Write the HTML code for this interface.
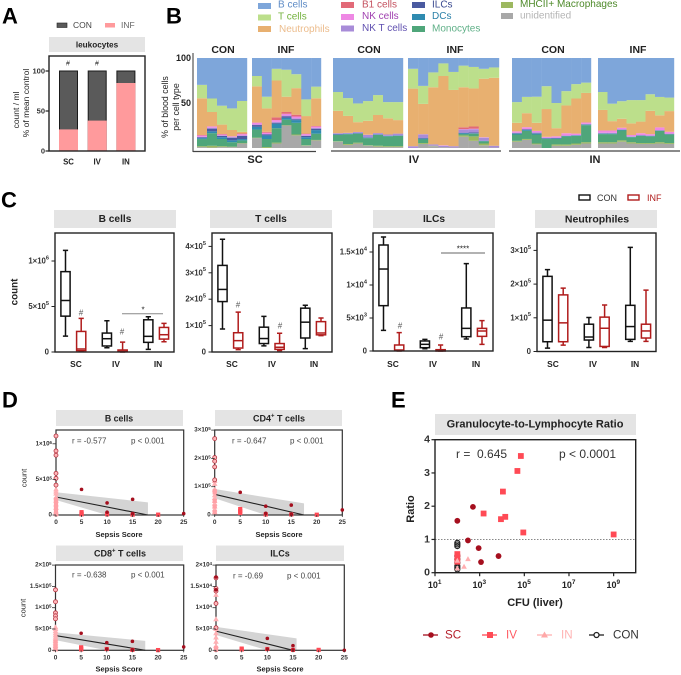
<!DOCTYPE html>
<html lang="en">
<head>
<meta charset="utf-8">
<title>Immune cell figure</title>
<style>
html,body{margin:0;padding:0;background:#fff;}
svg{display:block;filter:blur(.35px);font-family:"Liberation Sans",sans-serif;}
text{dominant-baseline:central;}
.hdr{fill:#e4e4e4;}
.box{fill:none;stroke:#222;stroke-width:1.4;}
.ht{font-weight:bold;text-anchor:middle;fill:#222;}
.let{font-weight:bold;font-size:22px;fill:#000;}
.lab{text-anchor:middle;fill:#222;}
.b{font-weight:bold;}
</style>
</head>
<body>
<svg id="fig" width="681" height="675" viewBox="0 0 681 675" xmlns="http://www.w3.org/2000/svg">
<rect width="681" height="675" fill="#fff"/>
<!-- panel letters -->
<text class="let" x="2" y="16">A</text>
<text class="let" x="166" y="16">B</text>
<text class="let" x="1" y="200">C</text>
<text class="let" x="2" y="400">D</text>
<text class="let" x="391" y="400">E</text>

<!-- panel A -->
<g>
<rect x="57" y="23" width="10" height="4.5" fill="#5a5a5a" stroke="#222" stroke-width=".6"/>
<text x="73" y="25" font-size="8.5" fill="#444">CON</text>
<rect x="105" y="23" width="10" height="4.5" fill="#ff9a9c"/>
<text x="121" y="25" font-size="8.5" fill="#666">INF</text>
<rect class="hdr" x="49" y="37" width="96" height="15"/>
<text class="ht" x="97" y="45" font-size="8.2">leukocytes</text>
<g id="a-marks"></g>
<rect class="box" x="49" y="56" width="96" height="95"/>
<text class="lab" font-size="8.5" transform="translate(16,110) rotate(-90)">count / ml</text>
<text class="lab" font-size="8.5" transform="translate(26,103) rotate(-90)">%  of mean control</text>
<text class="lab" x="68" y="64" font-size="7" fill="#444">#</text>
<text class="lab" x="97" y="64" font-size="7" fill="#444">#</text>
</g>

<!-- panel B -->
<g>
<g font-size="10">
<rect x="258" y="3" width="13" height="6" fill="#7ea6da"/>
<text x="278" y="5" fill="#5f8cc6">B cells</text>
<rect x="258" y="14.5" width="13" height="6" fill="#bcdf8b"/>
<text x="278" y="17" fill="#74b23e">T cells</text>
<rect x="258" y="26" width="13" height="6" fill="#e8b070"/>
<text x="279" y="29.5" fill="#ecbc8c">Neutrophils</text>
<rect x="341" y="2" width="13" height="6" fill="#e26a78"/>
<text x="362" y="5" fill="#c4505e">B1 cells</text>
<rect x="341" y="14" width="13" height="6" fill="#ee88e4"/>
<text x="362" y="16.5" fill="#a040b0">NK cells</text>
<rect x="341" y="25.5" width="13" height="6" fill="#a88cd8"/>
<text x="362" y="28.5" fill="#6050b0">NK T cells</text>
<rect x="412" y="2" width="13" height="6" fill="#4a5aa0"/>
<text x="432" y="5" fill="#3a4a90">ILCs</text>
<rect x="412" y="14" width="13" height="6" fill="#2f8bb0"/>
<text x="432" y="16.5" fill="#2a80a8">DCs</text>
<rect x="412" y="26" width="13" height="6" fill="#4fa67a"/>
<text x="432" y="29" fill="#60b088">Monocytes</text>
<rect x="501" y="2" width="12" height="6" fill="#9db860"/>
<text x="520" y="4.5" fill="#4e8a2a">MHCII+ Macrophages</text>
<rect x="501" y="13" width="12" height="6" fill="#a8a8a8"/>
<text x="520" y="16" fill="#b4b4b4">unidentified</text>
</g>
<text class="ht" x="223" y="50" font-size="10.5">CON</text>
<text class="ht" x="286" y="50" font-size="10.5">INF</text>
<text class="ht" x="369" y="50" font-size="10.5">CON</text>
<text class="ht" x="455" y="50" font-size="10.5">INF</text>
<text class="ht" x="553" y="50" font-size="10.5">CON</text>
<text class="ht" x="638" y="50" font-size="10.5">INF</text>
<g id="b-marks"></g>
<path d="M193 53V152" stroke="#333" stroke-width="1" fill="none"/>
<path d="M193 151.500H316" stroke="#444" stroke-width="1.3" fill="none"/>
<path d="M331 151H501" stroke="#444" stroke-width="1.3" fill="none"/>
<path d="M509 151H680" stroke="#444" stroke-width="1.3" fill="none"/>
<text class="b" x="191" y="58" text-anchor="end" font-size="9" fill="#222">100</text>
<text class="b" x="191" y="103" text-anchor="end" font-size="9" fill="#222">50</text>
<text class="lab" font-size="8.8" transform="translate(165,107) rotate(-90)">% of blood cells</text>
<text class="lab" font-size="8.8" transform="translate(176,107) rotate(-90)">per cell type</text>
<text class="ht" x="255" y="160" font-size="11">SC</text>
<text class="ht" x="414" y="160" font-size="11">IV</text>
<text class="ht" x="595" y="160" font-size="11">IN</text>
</g>

<!-- panel C -->
<g>
<rect x="579" y="195" width="11" height="5" fill="none" stroke="#111" stroke-width="1.4"/>
<text x="597" y="198" font-size="9" fill="#333">CON</text>
<rect x="628" y="195" width="11" height="5" fill="none" stroke="#b01c1c" stroke-width="1.4"/>
<text x="647" y="198" font-size="9" fill="#b01c1c">INF</text>
<rect class="hdr" x="54" y="210" width="122" height="18"/>
<rect class="hdr" x="210" y="210" width="122" height="18"/>
<rect class="hdr" x="373" y="210" width="122" height="18"/>
<rect class="hdr" x="535" y="210" width="122" height="18"/>
<text class="ht" x="115" y="219.500" font-size="10.200">B cells</text>
<text class="ht" x="271" y="219.500" font-size="10.200">T cells</text>
<text class="ht" x="434" y="219.500" font-size="10.200">ILCs</text>
<text class="ht" x="597" y="219.500" font-size="10.500">Neutrophiles</text>
<text class="ht" font-size="9.800" transform="translate(15,292) rotate(-90)">count</text>
<g id="c-marks"></g>
<g fill="#555" font-size="8" text-anchor="middle">
<text x="81" y="313">#</text>
<text x="122" y="332">#</text>
<text x="238" y="305">#</text>
<text x="280" y="326">#</text>
<text x="400" y="326">#</text>
<text x="441" y="337">#</text>
</g>
<path d="M122 313.700H163" stroke="#888" stroke-width="1" fill="none"/>
<text class="lab" x="143" y="310" font-size="8">*</text>
<path d="M441 253H485" stroke="#666" stroke-width="1" fill="none"/>
<text class="lab" x="463" y="249" font-size="8">****</text>
</g>

<!-- panel D -->
<g>
<rect class="hdr" x="56" y="410" width="127" height="16"/>
<rect class="hdr" x="215" y="410" width="127" height="16"/>
<rect class="hdr" x="56" y="545.500" width="127" height="15.500"/>
<rect class="hdr" x="216" y="545.500" width="128" height="15.500"/>
<text class="ht" x="119" y="418.500" font-size="8.800">B cells</text>
<text class="ht" x="279" y="418.500" font-size="9">CD4<tspan font-size="6" dy="-2">+</tspan><tspan dy="2"> T cells</tspan></text>
<text class="ht" x="120" y="553.500" font-size="9">CD8<tspan font-size="6" dy="-2">+</tspan><tspan dy="2"> T cells</tspan></text>
<text class="ht" x="280" y="553.500" font-size="9">ILCs</text>
<g id="d-marks"></g>
<text class="lab" font-size="7.5" transform="translate(24,478) rotate(-90)">count</text>
<text class="lab" font-size="7.5" transform="translate(23,608) rotate(-90)">count</text>
<text class="ht" x="119" y="534.500" font-size="7.500">Sepsis Score</text>
<text class="ht" x="279" y="534.500" font-size="7.500">Sepsis Score</text>
<text class="ht" x="119" y="669" font-size="7.500">Sepsis Score</text>
<text class="ht" x="280" y="669" font-size="7.500">Sepsis Score</text>
<g font-size="8" fill="#444">
<text x="72" y="441">r = -0.577</text>
<text x="131" y="441">p &lt; 0.001</text>
<text x="232" y="441">r = -0.647</text>
<text x="290" y="441">p &lt; 0.001</text>
<text x="72" y="575">r = -0.638</text>
<text x="131" y="575">p &lt; 0.001</text>
<text x="233" y="576">r = -0.69</text>
<text x="287" y="576">p &lt; 0.001</text>
</g>
</g>

<!-- panel E -->
<g>
<rect class="hdr" x="435" y="414" width="201" height="21"/>
<text class="ht" x="535" y="424.500" font-size="11">Granulocyte-to-Lymphocyte  Ratio</text>
<g id="e-marks"></g>
<text x="456" y="454" font-size="12" fill="#333" xml:space="preserve">r =  0.645</text>
<text x="559" y="454" font-size="12" fill="#333">p &lt; 0.0001</text>
<text class="ht" x="535" y="603" font-size="11">CFU (liver)</text>
<text class="ht" font-size="11" transform="translate(411,509) rotate(-90)">Ratio</text>
<g font-size="11.600">
<path d="M423 635H438" stroke="#a50f1e" stroke-width="1.300"/>
<circle cx="431" cy="635" r="2.800" fill="#a50f1e"/>
<text x="445" y="635" fill="#b5202c">SC</text>
<path d="M482 635H497" stroke="#ff4a55" stroke-width="1.300"/>
<rect x="487" y="632" width="6" height="6" fill="#ff4a55"/>
<text x="506" y="635" fill="#ff5a62">IV</text>
<path d="M537 635H552" stroke="#ffb0b0" stroke-width="1.300"/>
<path d="M544.500 631.500L548 637.500H541Z" fill="#ffa8a8"/>
<text x="561" y="635" fill="#ffb4b4">IN</text>
<path d="M589 635H604" stroke="#222" stroke-width="1.300"/>
<circle cx="596.500" cy="635" r="2.500" fill="#fff" stroke="#222" stroke-width="1.300"/>
<text x="613" y="635" fill="#333">CON</text>
</g>
</g>
</svg>
<script>
/* ---------- Panel A data ---------- */
const aCategories = ['SC', 'IV', 'IN'];
const aInfValues = [27, 38, 85];
const aConValues = [100, 100, 100];
const aTicks = [0, 50, 100];

/* ---------- Panel B data: each row is one animal, values in % per cell type ---------- */
const bCellTypes = ['unidentified', 'macrophages', 'monocytes', 'dcs', 'ilcs', 'nk-t-cells', 'nk-cells', 'b1-cells', 'neutrophils', 't-cells', 'b-cells'];
const bScCon = [
  [1, 1, 8, 1, 1, .5, 1.5, .5, 41, 15, 30],
  [.5, 2, 14, 2, 3, 1, 1.5, 0, 16, 15, 45],
  [1, 1, 8, 2, 1.5, .5, 1, .5, 10.5, 21, 53],
  [1, .5, 5, 2, 3, .5, 1, 0, 7, 24, 56],
  [5, .5, 3, 1.5, 3.5, .5, 1.5, .8, 1.7, 34.5, 48]
];
const bScInf = [
  [11, .5, 9, 3, 2, .5, 2, .5, 40, 11.5, 20],
  [0, 1, 9, 4, 1, .5, 1.5, 1, 26, 13, 43],
  [5, 1, 16, 5, 1, 1, 2, 3, 41, 13, 12],
  [25, .5, 6, 2, 1.5, 1, 2, 2, 17, 30, 13],
  [14, 1, 13, 3, 1, 1, 2, 2, 29.5, 15.5, 18],
  [2.5, .5, 7, 2, 1.5, .5, 1.5, .5, 19.5, 18.5, 46],
  [8.5, .5, 7, 4, 1.5, 1, 1.5, .5, 31, 13, 32]
];
const bIvCon = [
  [7, .5, 7, .5, .5, 1, 0, 0, 25, 21, 38],
  [3.5, 1, 11, .5, 0, 1, 0, 0, 19, 20, 45],
  [5, 1, 10, .5, .5, 1, 0, 0, 11, 21, 51],
  [2.5, .5, 8, .5, .5, 2.5, .3, 0, 15.5, 22, 48],
  [1.5, 1, 12, .5, 0, 1.5, 0, 0, 20, 22, 41],
  [1, 1, 11, .5, 0, 1.5, 0, 0, 18, 18, 49],
  [1, 1, 11.5, .5, 0, 2, 0, 0, 15, 20, 49]
];
const bIvInf = [
  [0, 0, 0, 0, 0, 2, 0, 0, 64, 22, 12],
  [4.5, 1, 4, 1, .5, 4, .3, 0, 33.7, 20, 31],
  [2, .5, 0, 0, 0, 1.5, 0, 0, 63.5, 16.5, 16],
  [1, 0, 0, 0, 0, 1.5, .5, 0, 77, 14, 6],
  [.5, 0, 0, 0, 0, 1.5, 0, 0, 62.5, 20, 15.5],
  [12.5, 1.5, 1.5, 1, .5, 3.5, .5, 2, 44.5, 24, 8.5],
  [8, 5, 3, .5, 1, 3.5, .5, 2.5, 42.5, 24, 10],
  [3, 2, 2.5, .5, 0, 3.5, .5, 0, 65, 11, 12],
  [.5, 0, 0, 0, 0, 2, 0, 0, 75.5, 11.5, 10.5]
];
const bInCon = [
  [7, 1, 7, 1, .5, .5, 1.5, 0, 9.5, 23, 49],
  [9, 1, 9, 1, .5, .5, 2, 0, 15.5, 18, 43],
  [4, 1, 10, 1, .5, 1, 1.5, 0, 9, 29, 43],
  [0, 0, 10, .5, .5, .5, 1, 0, 31, 25.5, 31.5],
  [2.5, 1.5, 6, .5, .5, .5, 1.5, 0, 9, 28, 50],
  [2.5, 1.5, 9, .5, 0, .5, 2.5, 0, 31, 16, 37],
  [3.5, 1.5, 8.5, .5, 0, .5, 1.5, 0, 39, 16, 29],
  [5, 1.5, 19, .5, .5, .5, 1.5, 0, 33, 11.5, 27.5]
];
const bInInf = [
  [5, 1.5, 9, .5, .3, .7, 2.5, 0, 23, 20, 38],
  [5, 1.5, 9, .5, .3, .7, 2.5, 0, 10.5, 19.5, 51],
  [7, 1.5, 11, .5, .3, .7, 1.5, 0, 10, 19.5, 48],
  [5, 1.5, 5.5, .3, .2, .5, 1.5, 0, 13, 26, 47],
  [4.5, 1, 8, .3, .2, .5, 2, 0, 13, 24, 47],
  [4.5, 1, 7.5, .3, .2, .5, 1.5, 0, 26, 18.5, 40.5],
  [5, 1.5, 12.5, .3, .2, .5, 3, 0, 13.5, 20.5, 43.5],
  [4.5, 1, 9.5, .3, .2, .5, 2, 0, 23, 15, 44]
];

/* ---------- Panel C data: rows are [min, q1, median, q3, max] for SC-CON, SC-INF, IV-CON, IV-INF, IN-CON, IN-INF ---------- */
const cCategories = ['SC', 'IV', 'IN'];
const cBCells = [
  [1.75e5, 3.94e5, 5.66e5, 8.83e5, 1.117e6],
  [.07e5, .15e5, .33e5, 2.26e5, 3.69e5],
  [.47e5, .66e5, 1.46e5, 2.08e5, 3.43e5],
  [0, .03e5, .07e5, .22e5, 1.09e5],
  [.29e5, 1.06e5, 1.72e5, 3.54e5, 3.87e5],
  [1.13e5, 1.42e5, 1.9e5, 2.7e5, 3.14e5]
];
const cTCells = [
  [.87e5, 1.91e5, 2.37e5, 3.28e5, 4.27e5],
  [.09e5, .15e5, .43e5, .73e5, 1.51e5],
  [.23e5, .32e5, .51e5, .94e5, 1.35e5],
  [.05e5, .1e5, .18e5, .32e5, .71e5],
  [.13e5, .53e5, 1.13e5, 1.66e5, 1.77e5],
  [.62e5, .65e5, .72e5, 1.15e5, 1.29e5]
];
const cIlcs = [
  [.313e4, .687e4, 1.242e4, 1.606e4, 1.727e4],
  [0, .005e4, .015e4, .091e4, .278e4],
  [.035e4, .05e4, .101e4, .152e4, .177e4],
  [0, 0, .005e4, .02e4, .091e4],
  [.182e4, .217e4, .343e4, .652e4, 1.323e4],
  [.101e4, .222e4, .303e4, .343e4, .46e4]
];
const cNeutrophiles = [
  [.1e5, .29e5, .93e5, 2.23e5, 2.43e5],
  [.19e5, .29e5, .85e5, 1.68e5, 1.88e5],
  [.12e5, .34e5, .43e5, .81e5, 1.01e5],
  [.12e5, .15e5, .69e5, 1.02e5, 1.38e5],
  [.3e5, .36e5, .74e5, 1.37e5, 3.09e5],
  [.3e5, .4e5, .61e5, .81e5, 1.82e5]
];
const cBTicks = [[0, '0', ''], [5e5, '5×10', '5'], [1e6, '1×10', '6']];
const cTTicks = [[0, '0', ''], [1e5, '1×10', '5'], [2e5, '2×10', '5'], [3e5, '3×10', '5'], [4e5, '4×10', '5']];
const cIlcTicks = [[0, '0', ''], [5e3, '5×10', '3'], [1e4, '1×10', '4'], [1.5e4, '1.5×10', '4']];
const cNeuTicks = [[0, '0', ''], [1e5, '1×10', '5'], [2e5, '2×10', '5'], [3e5, '3×10', '5']];

/* ---------- Panel D data: points are [sepsis score, count] ---------- */
const dXTicks = [0, 5, 10, 15, 20, 25];
const dBSc = [[5, 3.6e5], [10, 1.7e5], [10, .4e5], [15, 2.2e5], [15, .2e5], [25, .2e5]];
const dBIv = [[5, .4e5], [5, .2e5], [5, .1e5], [10, .1e5], [15, .05e5], [20, .05e5], [0, .1e5], [0, .5e5], [0, 1e5], [0, 1.5e5], [0, 2e5], [0, 2.2e5]];
const dBIn = [[0, .2e5], [0, .5e5], [0, 1e5], [0, 1.5e5], [0, 2e5], [0, 2.5e5], [0, 3e5], [0, 3.3e5], [0, 3.6e5]];
const dBCon = [[0, 11.1e5], [0, 9e5], [0, 8.4e5], [0, 5.85e5], [0, 5.15e5], [0, 4.2e5]];
const dBLine = [[0, 2.53e5], [18, 0]];
const dBUpper = [[0, 3.2e5], [18, 1.78e5]];
const dBLower = [[0, 2.1e5], [10, 0], [18, 0]];
const dBTicks = [[0, '0', ''], [5e5, '5×10', '5'], [1e6, '1×10', '6']];

const dCd4Sc = [[5, .8e5], [10, .31e5], [10, .06e5], [15, .35e5], [15, .02e5], [25, .18e5]];
const dCd4Iv = [[5, .21e5], [5, .14e5], [5, .07e5], [10, .02e5], [15, .02e5], [20, .01e5], [0, .1e5], [0, .3e5], [0, .5e5], [0, .8e5], [0, .85e5]];
const dCd4In = [[0, .1e5], [0, .2e5], [0, .3e5], [0, .4e5], [0, .5e5], [0, .6e5], [0, .7e5], [0, .9e5], [0, 1.1e5], [0, 1.2e5]];
const dCd4Con = [[0, 2.7e5], [0, 2.03e5], [0, 1.9e5], [0, 1.7e5], [0, 1.24e5]];
const dCd4Line = [[0, .73e5], [17.5, 0]];
const dCd4Upper = [[0, .92e5], [17.5, .41e5]];
const dCd4Lower = [[0, .59e5], [10, 0], [17.5, 0]];
const dCd4Ticks = [[0, '0', ''], [1e5, '1×10', '5'], [2e5, '2×10', '5'], [3e5, '3×10', '5']];

const dCd8Sc = [[5, 4e4], [10, 1.8e4], [10, .3e4], [15, 2.1e4], [15, .15e4], [25, .8e4]];
const dCd8Iv = [[5, .7e4], [5, .4e4], [5, .2e4], [10, .3e4], [15, .1e4], [20, .05e4], [0, .3e4], [0, 1e4], [0, 2e4]];
const dCd8In = [[0, .2e4], [0, .6e4], [0, 1e4], [0, 1.4e4], [0, 1.8e4], [0, 2.2e4], [0, 2.6e4], [0, 3e4], [0, 3.5e4], [0, 4e4], [0, 4.5e4], [0, 5e4], [0, 5.4e4]];
const dCd8Con = [[0, 1.42e5], [0, 1.14e5], [0, .88e5], [0, .81e5], [0, .74e5]];
const dCd8Line = [[0, 3.45e4], [17.5, 0]];
const dCd8Upper = [[0, 4.2e4], [17.5, 2.2e4]];
const dCd8Lower = [[0, 2.4e4], [10, 0], [17.5, 0]];
const dCd8Ticks = [[0, '0', ''], [5e4, '5×10', '4'], [1e5, '1×10', '5'], [1.5e5, '1.5×10', '5'], [2e5, '2×10', '5']];

const dIlcSc = [[0, 1.72e4], [0, 1.42e4], [10, .28e4], [15, .11e4], [10, .03e4], [15, .01e4], [25, 0]];
const dIlcIv = [[5, .04e4], [5, .02e4], [10, .03e4], [15, .01e4], [20, .01e4], [0, .01e4], [0, .05e4]];
const dIlcIn = [[0, .1e4], [0, .2e4], [0, .3e4], [0, .4e4], [0, .5e4], [0, .73e4], [0, 1.3e4]];
const dIlcCon = [[0, 1.7e4], [0, 1.45e4], [0, 1.39e4], [0, 1.1e4], [0, .53e4]];
const dIlcLine = [[0, .45e4], [15, 0]];
const dIlcUpper = [[0, .55e4], [15.7, .28e4]];
const dIlcLower = [[0, .36e4], [10, 0], [15.7, 0]];
const dIlcTicks = [[0, '0', ''], [5e3, '5×10', '3'], [1e4, '1×10', '4'], [1.5e4, '1.5×10', '4'], [2e4, '2×10', '4']];

/* ---------- Panel E data: points are [CFU, ratio] ---------- */
const eSc = [[100, 1.56], [500, 1.98], [300, .97], [900, .74], [1150, .32], [7000, .5]];
const eIv = [[7e4, 3.51], [4.9e4, 3.06], [1.1e4, 2.44], [1500, 1.78], [9000, 1.61], [1.4e4, 1.68], [9e4, 1.21], [1e9, 1.15], [100, .56], [100, .48], [100, .33]];
const eIn = [[300, .41], [200, .18], [100, .36], [100, .13]];
const eCon = [[100, .9], [100, .85], [100, .8], [100, .5], [100, .4], [100, .3], [100, .2], [100, .15], [100, .1]];
const eXTicks = [1, 3, 5, 7, 9];
const eYTicks = [0, 1, 2, 3, 4];
const eThreshold = 1;

/* ---------- helpers ---------- */
const NS = 'http://www.w3.org/2000/svg';
function mk(parent, tag, attrs, text) {
  const n = document.createElementNS(NS, tag);
  for (const k in attrs) n.setAttribute(k, attrs[k]);
  if (text !== undefined) n.textContent = text;
  parent.appendChild(n);
  return n;
}
function tickText(parent, x, y, mant, exp, size, weight, name) {
  const t = mk(parent, 'text', {x: x, y: y, 'text-anchor': 'end', 'font-size': size, 'font-weight': weight, fill: '#333'}, mant);
  
  
  if (exp) {
    const s = mk(t, 'tspan', {dy: -size * .33, 'font-size': size * .72}, exp);
    
    
  }
  return t;
}

/* ---------- draw panel A ---------- */
(function () {
  const g = document.getElementById('a-marks');
  const y = v => 151 - v * 0.8;
  const x = i => 68.5 + i * 28.7;
  aCategories.forEach((c, i) => {
    const con = mk(g, 'rect', {x: x(i) - 9, y: y(aConValues[i]), width: 18, height: y(0) - y(aConValues[i]), fill: '#5a5a5a', stroke: '#1a1a1a', 'stroke-width': 1});
    
    
    const inf = mk(g, 'rect', {x: x(i) - 9.500, y: y(aInfValues[i]), width: 19, height: y(0) - y(aInfValues[i]), fill: '#ff9a9c'});
    
    
    const lab = mk(g, 'text', {x: x(i), y: 162, 'text-anchor': 'middle', 'font-size': 7.8, 'font-weight': 'bold', fill: '#222'}, c);
    
    
  });
  aTicks.forEach(v => {
    const tk = mk(g, 'path', {d: 'M45.500 ' + y(v) + 'H49', stroke: '#222', 'stroke-width': 1.2});
    
    
    tickText(g, 45, y(v), String(v), '', 7.5, 'bold', 'y-tick-label-' + v);
  });
})();

/* ---------- draw panel B ---------- */
(function () {
  const g = document.getElementById('b-marks');
  const colors = {'unidentified': '#a8a8a8', 'macrophages': '#9db860', 'monocytes': '#4fa67a', 'dcs': '#2f8bb0', 'ilcs': '#4a5aa0', 'nk-t-cells': '#a88cd8', 'nk-cells': '#ee88e4', 'b1-cells': '#e26a78', 'neutrophils': '#e8b070', 't-cells': '#bcdf8b', 'b-cells': '#7ea6da'};
  const y = p => 148 - p * 0.9;
  const groups = [
    {name: 'sc-con', rows: bScCon, x0: 197, x1: 247},
    {name: 'sc-inf', rows: bScInf, x0: 252, x1: 321},
    {name: 'iv-con', rows: bIvCon, x0: 333, x1: 403},
    {name: 'iv-inf', rows: bIvInf, x0: 408, x1: 499},
    {name: 'in-con', rows: bInCon, x0: 512, x1: 591},
    {name: 'in-inf', rows: bInInf, x0: 598, x1: 674}
  ];
  groups.forEach(gr => {
    const w = (gr.x1 - gr.x0) / gr.rows.length;
    gr.rows.forEach((row, i) => {
      const total = row.reduce((a, b) => a + b, 0);
      let cum = 0;
      row.forEach((v, j) => {
        if (v <= 0) return;
        const p0 = cum / total * 100;
        cum += v;
        const p1 = cum / total * 100;
        const r = mk(g, 'rect', {x: gr.x0 + i * w, y: y(p1), width: w + .2, height: y(p0) - y(p1), fill: colors[bCellTypes[j]]});
        
        
      });
    });
  });
})();

/* ---------- draw panel C ---------- */
(function () {
  const g = document.getElementById('c-marks');
  const plots = [
    {name: 'b-cells', stats: cBCells, ticks: cBTicks, left: 55, right: 174, zero: 352, unit: 45.5 / 5e5, labels: [76, 116, 158]},
    {name: 't-cells', stats: cTCells, ticks: cTTicks, left: 212, right: 332, zero: 352, unit: 26.4 / 1e5, labels: [232, 272, 314]},
    {name: 'ilcs', stats: cIlcs, ticks: cIlcTicks, left: 373, right: 493, zero: 351, unit: 33 / 5e3, labels: [393, 433, 476]},
    {name: 'neutrophiles', stats: cNeutrophiles, ticks: cNeuTicks, left: 537, right: 656, zero: 351.5, unit: 33.7 / 1e5, labels: [553, 593, 635]}
  ];
  plots.forEach(p => {
    const y = v => p.zero - v * p.unit;
    const x = i => p.left + 10.5 + 15.7 * (i % 2) + 41.4 * Math.floor(i / 2);
    p.stats.forEach((s, i) => {
      const col = i % 2 ? '#b01c1c' : '#111';
      const cx = x(i), bw = 4.6, cw = 2.6;
      const box = mk(g, 'rect', {x: cx - bw, y: y(s[3]), width: bw * 2, height: y(s[1]) - y(s[3]), fill: 'none', stroke: col, 'stroke-width': 1.5});
      
      
      const med = mk(g, 'path', {d: 'M' + (cx - bw) + ' ' + y(s[2]) + 'H' + (cx + bw), stroke: col, 'stroke-width': 1.5, fill: 'none'});
      
      
      const wh = mk(g, 'path', {d: 'M' + cx + ' ' + y(s[3]) + 'V' + y(s[4]) + 'M' + (cx - cw) + ' ' + y(s[4]) + 'H' + (cx + cw) + 'M' + cx + ' ' + y(s[1]) + 'V' + y(s[0]) + 'M' + (cx - cw) + ' ' + y(s[0]) + 'H' + (cx + cw), stroke: col, 'stroke-width': 1.5, fill: 'none'});
      
      
    });
    const fr = mk(g, 'rect', {x: p.left, y: 233, width: p.right - p.left, height: p.zero - 233, class: 'box'});
    
    
    p.ticks.forEach(t => {
      const tk = mk(g, 'path', {d: 'M' + (p.left - 3.500) + ' ' + y(t[0]) + 'H' + p.left, stroke: '#222', 'stroke-width': 1});
      
      
      tickText(g, p.left - 6, y(t[0]), t[1], t[2], 7.8, 'bold', p.name + '-y-tick-label-' + t[0]);
    });
    cCategories.forEach((c, i) => {
      const lab = mk(g, 'text', {x: p.labels[i], y: 364, 'text-anchor': 'middle', 'font-size': 8.4, fill: '#222', 'font-weight': 'bold'}, c);
      
      
    });
  });
})();

/* ---------- draw panel D ---------- */
(function () {
  const g = document.getElementById('d-marks');
  const plots = [
    {name: 'b-cells', sc: dBSc, iv: dBIv, inn: dBIn, con: dBCon, line: dBLine, up: dBUpper, lo: dBLower, ticks: dBTicks, left: 56, right: 183.7, top: 430, zero: 515, unit: 35.6 / 5e5},
    {name: 'cd4', sc: dCd4Sc, iv: dCd4Iv, inn: dCd4In, con: dCd4Con, line: dCd4Line, up: dCd4Upper, lo: dCd4Lower, ticks: dCd4Ticks, left: 214.7, right: 342.3, top: 430, zero: 515, unit: 28.3 / 1e5},
    {name: 'cd8', sc: dCd8Sc, iv: dCd8Iv, inn: dCd8In, con: dCd8Con, line: dCd8Line, up: dCd8Upper, lo: dCd8Lower, ticks: dCd8Ticks, left: 55.5, right: 183.7, top: 565, zero: 650.3, unit: 21.3 / 5e4},
    {name: 'ilcs', sc: dIlcSc, iv: dIlcIv, inn: dIlcIn, con: dIlcCon, line: dIlcLine, up: dIlcUpper, lo: dIlcLower, ticks: dIlcTicks, left: 216, right: 344.3, top: 565, zero: 650.3, unit: 21.3 / 5e3}
  ];
  plots.forEach(p => {
    const xs = (p.right - p.left) / 25;
    const x = v => p.left + v * xs;
    const y = v => p.zero - v * p.unit;
    const pts = a => a.map(q => x(q[0]) + ',' + y(q[1])).join(' ');
    const band = mk(g, 'polygon', {points: pts(p.up) + ' ' + pts(p.lo.slice().reverse()), fill: '#d4d4d4'});
    
    
    const line = mk(g, 'polyline', {points: pts(p.line), fill: 'none', stroke: '#222', 'stroke-width': 1.1});
    
    
    const fr = mk(g, 'rect', {x: p.left, y: p.top, width: p.right - p.left, height: p.zero - p.top, fill: 'none', stroke: '#333', 'stroke-width': 1.2});
    
    
    p.inn.forEach((q, i) => {
      const m = mk(g, 'path', {d: 'M' + x(q[0]) + ' ' + (y(q[1]) - 3) + 'l2.800 5h-5.600z', fill: '#ffb0b4'});
      
      
    });
    p.iv.forEach((q, i) => {
      const m = mk(g, 'rect', {x: x(q[0]) - 2.100, y: y(q[1]) - 2.100, width: 4.2, height: 4.2, fill: q[0] === 0 ? '#ffa0a6' : '#ff4a55'});
      
      
    });
    p.con.forEach((q, i) => {
      const m = mk(g, 'circle', {cx: x(q[0]), cy: y(q[1]), r: 2, fill: '#ffb6ba', stroke: '#b0303c', 'stroke-width': .8});
      
      
    });
    p.sc.forEach((q, i) => {
      const m = mk(g, 'circle', {cx: x(q[0]), cy: y(q[1]), r: 1.8, fill: '#a50f1e'});
      
      
    });
    p.ticks.forEach(t => {
      const tk = mk(g, 'path', {d: 'M' + (p.left - 3.500) + ' ' + y(t[0]) + 'H' + p.left, stroke: '#333', 'stroke-width': .8});
      
      
      tickText(g, p.left - 4, y(t[0]), t[1], t[2], 6.2, 'bold', p.name + '-y-tick-label-' + t[0]);
    });
    dXTicks.forEach(v => {
      const tk = mk(g, 'path', {d: 'M' + x(v) + ' ' + p.zero + 'v2', stroke: '#333', 'stroke-width': .8});
      
      
      const lab = mk(g, 'text', {x: x(v), y: p.zero + 7.5, 'text-anchor': 'middle', 'font-size': 6.5, 'font-weight': 'bold', fill: '#333'}, String(v));
      
      
    });
  });
})();

/* ---------- draw panel E ---------- */
(function () {
  const g = document.getElementById('e-marks');
  const left = 435, right = 635.7, top = 439.7, bottom = 572.7;
  const xl = e => left + (e - 1) * 22.33;
  const x = v => xl(Math.log10(v));
  const y = v => bottom - v * 33.25;
  const th = mk(g, 'path', {d: 'M' + left + ' ' + y(eThreshold) + 'H' + right, stroke: '#888', 'stroke-width': 1, 'stroke-dasharray': '1.500 1.500', fill: 'none'});
  
  
  eCon.forEach((q, i) => {
    const m = mk(g, 'circle', {cx: x(q[0]), cy: y(q[1]), r: 2.5, fill: 'none', stroke: '#222', 'stroke-width': 1.2});
    
    
  });
  eIv.forEach((q, i) => {
    const m = mk(g, 'rect', {x: x(q[0]) - 2.900, y: y(q[1]) - 2.900, width: 5.8, height: 5.8, fill: '#ff4a55'});
    
    
  });
  eIn.forEach((q, i) => {
    const m = mk(g, 'path', {d: 'M' + x(q[0]) + ' ' + (y(q[1]) - 3) + 'l2.800 5h-5.600z', fill: '#ffaeb0'});
    
    
  });
  eSc.forEach((q, i) => {
    const m = mk(g, 'circle', {cx: x(q[0]), cy: y(q[1]), r: 2.900, fill: '#a50f1e'});
    
    
  });
  const fr = mk(g, 'rect', {x: left, y: top, width: right - left, height: bottom - top, class: 'box'});
  
  
  eYTicks.forEach(v => {
    const tk = mk(g, 'path', {d: 'M' + (left - 3.500) + ' ' + y(v) + 'H' + left, stroke: '#222', 'stroke-width': 1.2});
    
    
    tickText(g, left - 5, y(v), String(v), '', 10.5, 'bold', 'ratio-y-tick-label-' + v);
  });
  eXTicks.forEach(e => {
    const tk = mk(g, 'path', {d: 'M' + xl(e) + ' ' + bottom + 'v3.500', stroke: '#222', 'stroke-width': 1.2});
    
    
    const lab = tickText(g, xl(e) + 6.500, 585, '10', String(e), 9, 'bold', 'ratio-x-tick-label-' + e);
    lab.setAttribute('fill', '#222');
  });
})();
</script>
</body>
</html>
